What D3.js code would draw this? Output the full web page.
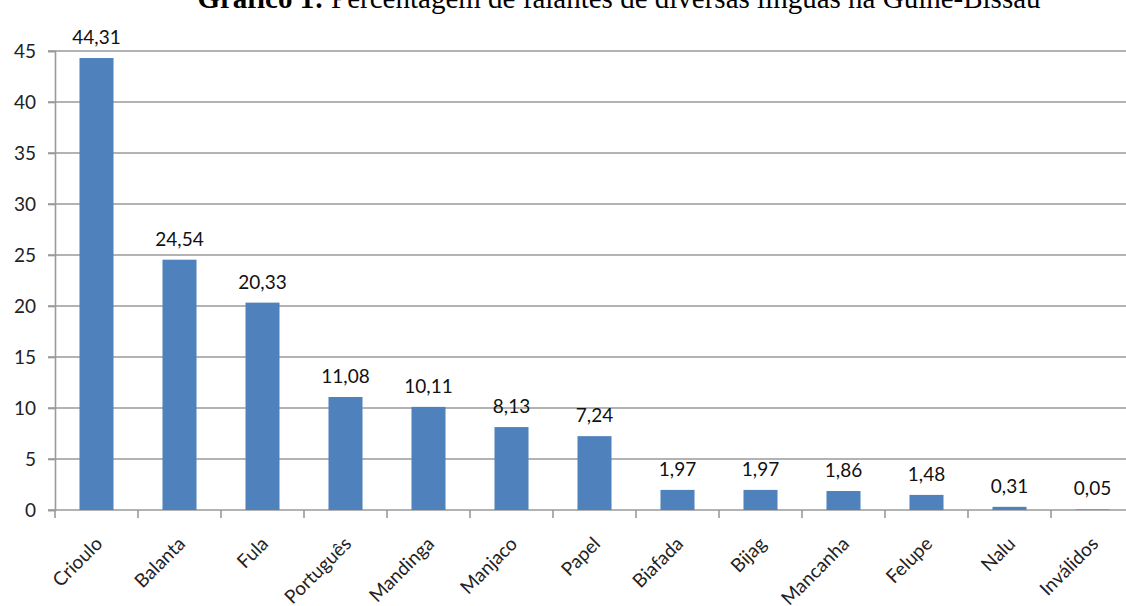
<!DOCTYPE html>
<html>
<head>
<meta charset="utf-8">
<script src="https://cdn.jsdelivr.net/npm/d3@7"></script>
<style>
  body { margin: 0; background: #fff; }
  svg { display: block; }
  .tick text { font-family: Lato, "Noto Sans", sans-serif; font-size: 19px; fill: #222; }
  .value { font-family: Lato, "Noto Sans", sans-serif; font-size: 19px; fill: #111; }
</style>
</head>
<body>
<div id="chart-container"></div>
<script>
const categories = ["Crioulo", "Balanta", "Fula", "Português", "Mandinga", "Manjaco", "Papel",
                    "Biafada", "Bijag", "Mancanha", "Felupe", "Nalu", "Inválidos"];
const values = [44.31, 24.54, 20.33, 11.08, 10.11, 8.13, 7.24, 1.97, 1.97, 1.86, 1.48, 0.31, 0.05];
const yTicks = [0, 5, 10, 15, 20, 25, 30, 35, 40, 45];
const title = "Percentagem de falantes de diversas línguas na Guiné-Bissau";

const width = 1126, height = 606;
const left = 55, zeroY = 510, topY = 51;

const svg = d3.select("#chart-container")
    .append("svg")
    .attr("width", width)
    .attr("height", height);

const x = d3.scaleBand()
    .domain(categories)
    .range([left, left + 83 * categories.length])
    .paddingInner(0.59)
    .paddingOuter(0.295);

const y = d3.scaleLinear()
    .domain([0, 45])
    .range([zeroY, topY]);

// gridlines
svg.append('g')
    .selectAll('line')
    .data(yTicks)
    .enter()
    .append('line')
    .attr('x1', left - 7)
    .attr('x2', width)
    .attr('y1', d => y(d))
    .attr('y2', d => y(d))
    .attr('stroke', '#9a9a9a')
    .attr('stroke-width', 1.6);

// y axis
const yAxis = svg.append('g')
    .attr('transform', `translate(${left},0)`)
    .call(d3.axisLeft(y).tickValues(yTicks).tickSize(7).tickPadding(12));
yAxis.select('.domain').attr('stroke', '#9a9a9a').attr('stroke-width', 1.6);
yAxis.selectAll('.tick line').attr('stroke', '#9a9a9a').attr('stroke-width', 1.6);

// x axis ticks at band boundaries
const bounds = categories.map(c => x(c) - x.step() * x.paddingInner() / 2);
svg.append('g')
    .selectAll('line')
    .data(bounds)
    .enter()
    .append('line')
    .attr('x1', d => d)
    .attr('x2', d => d)
    .attr('y1', zeroY)
    .attr('y2', zeroY + 8)
    .attr('stroke', '#9a9a9a')
    .attr('stroke-width', 1.6);

// bars
svg.append('g')
    .selectAll('rect')
    .data(values)
    .enter()
    .append('rect')
    .attr('x', (d, i) => x(categories[i]))
    .attr('y', d => y(d))
    .attr('width', x.bandwidth())
    .attr('height', d => zeroY - y(d))
    .attr('fill', '#4f81bd');

// value labels
svg.append('g')
    .selectAll('text')
    .data(values)
    .enter()
    .append('text')
    .attr('class', 'value')
    .attr('x', (d, i) => x(categories[i]) + x.bandwidth() / 2)
    .attr('y', d => y(d) - 14)
    .attr('text-anchor', 'middle')
    .text(d => d.toFixed(2).replace('.', ','));

// category labels
svg.append('g')
    .selectAll('text')
    .data(categories)
    .enter()
    .append('text')
    .attr('transform', c => `translate(${x(c) + x.bandwidth() / 2 + 7},${zeroY + 35}) rotate(-45)`)
    .attr('text-anchor', 'end')
    .style('font-family', 'Lato, "Noto Sans", sans-serif')
    .style('font-size', '19px')
    .style('fill', '#222')
    .text(c => c);

// title (cut at top, as in the source image)
const t = svg.append('text')
    .attr('x', 619)
    .attr('y', 8)
    .attr('text-anchor', 'middle')
    .style('font-family', '"Liberation Serif", "Times New Roman", serif')
    .style('font-size', '29px')
    .style('fill', '#000');
t.append('tspan').style('font-weight', 'bold').text('Gráfico 1: ');
t.append('tspan').text(title);
</script>
</body>
</html>
